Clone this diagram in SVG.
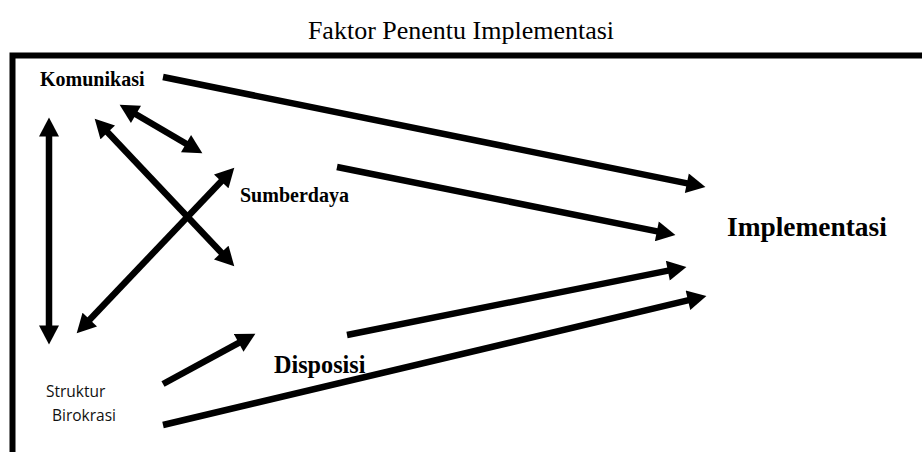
<svg xmlns="http://www.w3.org/2000/svg" width="922" height="452" viewBox="0 0 922 452">
<defs>
<style>
.serif{font-family:"Liberation Serif","Times New Roman",serif;fill:#000}
.b{font-weight:bold}
.sans{font-family:"Open Sans","Noto Sans",sans-serif;fill:#111}
.conn line{stroke:#000;stroke-width:6.5;fill:none}
.one{marker-end:url(#ah)}
.two{marker-start:url(#ah);marker-end:url(#ah)}
</style>
<marker id="ah" markerUnits="userSpaceOnUse" markerWidth="20" markerHeight="20" refX="10" refY="9.5" orient="auto-start-reverse" viewBox="0 0 18 19">
<path d="M0,0 L18,9.5 L0,19 z" fill="#000"/>
</marker>
</defs>
<rect width="922" height="452" fill="#fff"/>
<text class="serif" x="461" y="39" font-size="26" text-anchor="middle">Faktor Penentu Implementasi</text>
<path d="M12.5,452 V55.5 H922" fill="none" stroke="#000" stroke-width="6"/>
<g id="komunikasi"><text class="serif b" x="40" y="86" font-size="20">Komunikasi</text></g>
<g id="sumberdaya"><text class="serif b" x="240" y="202" font-size="20">Sumberdaya</text></g>
<g id="disposisi"><text class="serif b" x="274" y="373" font-size="24.2">Disposisi</text></g>
<g id="implementasi"><text class="serif b" x="727" y="236" font-size="27.4">Implementasi</text></g>
<g id="struktur"><text class="sans" font-size="15.5"><tspan x="46" y="397">Struktur</tspan><tspan x="52" y="421">Birokrasi</tspan></text></g>
<g id="connectors" class="conn">
<line class="one" x1="163" y1="77" x2="697.16" y2="185.41"/>
<line class="one" x1="337" y1="167" x2="667.16" y2="233.42"/>
<line class="one" x1="347" y1="335" x2="678.16" y2="268.57"/>
<line class="one" x1="163" y1="425" x2="698.22" y2="297.85"/>
<line class="one" x1="163" y1="384" x2="247.97" y2="337.82"/>
<line class="two" x1="49" y1="126" x2="49" y2="336"/>
<line class="two" x1="126.9" y1="109.04" x2="195.1" y2="148.96"/>
<line class="two" x1="100.5" y1="124.81" x2="228.5" y2="260.19"/>
<line class="two" x1="228.49" y1="173.8" x2="82.51" y2="327.2"/>
</g>
</svg>
